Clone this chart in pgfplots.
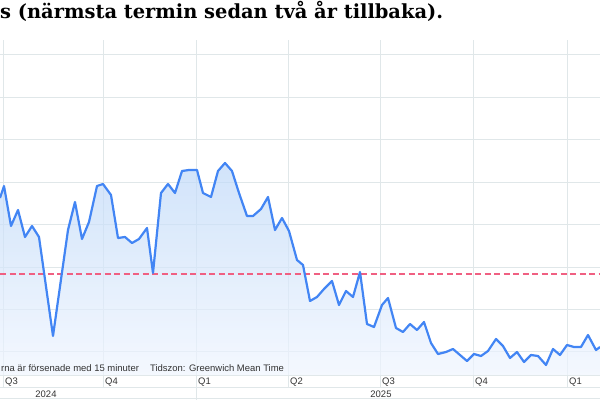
\documentclass[border=0pt]{standalone}
\usepackage{pgfplots}
\pgfplotsset{compat=1.18}
\usepackage{fontspec}
\setmainfont{Liberation Sans}
\newfontfamily\titlefont{DejaVu Serif}
\definecolor{lineblue}{RGB}{66,133,244}
\definecolor{gridcol}{RGB}{224,231,233}
\definecolor{filltop}{RGB}{190,216,248}
\definecolor{fillbot}{RGB}{239,245,254}
\definecolor{refred}{RGB}{240,96,130}
\definecolor{txt}{RGB}{51,51,51}
\pgfplotstableread{
x y
0 177
4 189
11 149
18 165
25 138
32 149
39 138
53 39
68 145
75 173
82 136
89 153
97 189
103 191
111 180
118 137
125 138
132 132
139 136
147 147
153 102
161 182
168 191
175 182
182 204
189 205
197 205
203 182
211 178
218 204
225 212
232 204
239 182
247 159
253 159
261 166
268 178
275 145
282 157
289 144
297 115
303 110
310 74
317 78
324 86
332 94
339 70
346 84
353 78
360 103
367 51
374 48
382 70
388 77
396 47
403 43
410 51
417 45
424 53
431 32
438 21
446 23
453 26
460 20
467 14
474 21
481 19
488 24
496 36
503 29
510 17
517 23
524 13
531 20
538 19
546 10
553 26
560 20
567 30
574 28
581 28
588 40
596 25
600 28
}\series
\begin{document}
\begin{tikzpicture}
\useasboundingbox (0,0) rectangle (600bp,400bp);
\node[anchor=base west, inner sep=0, font=\titlefont\bfseries\fontsize{19.5}{22}\selectfont, text=black] at (0bp,381bp) {s (närmsta termin sedan två år tillbaka).};
\begin{axis}[
  at={(0,25bp)}, anchor=south west,
  scale only axis, width=600bp, height=335bp,
  xmin=0, xmax=600, ymin=0, ymax=335,
  axis line style={draw=none},
  tick style={draw=none},
  xtick={3,103,196,288,380,473,567},
  ytick={0,23,65.4,107.9,150.3,192.7,235.1,277.6,320},
  xticklabels={}, yticklabels={},
  xmajorgrids, ymajorgrids,
  grid style={gridcol, line width=1bp},
  clip=false,
]
\addplot[draw=none, top color=filltop, bottom color=fillbot, fill opacity=0.7] table[x=x,y=y] {\series} \closedcycle;
\addplot[refred, line width=1.4bp, dash pattern=on 6bp off 3.5bp] coordinates {(0,101) (600,101)};
\addplot[lineblue, line width=2.2bp, line join=round] table[x=x,y=y] {\series};
\draw[gridcol, line width=1bp] (axis cs:0,-12) -- (axis cs:600,-12);
\draw[gridcol, line width=1bp] (axis cs:0,-23) -- (axis cs:600,-23);
\draw[gridcol, line width=1bp] (axis cs:3,0) -- (axis cs:3,-12);
\draw[gridcol, line width=1bp] (axis cs:103,0) -- (axis cs:103,-12);
\draw[gridcol, line width=1bp] (axis cs:288,0) -- (axis cs:288,-12);
\draw[gridcol, line width=1bp] (axis cs:380,0) -- (axis cs:380,-12);
\draw[gridcol, line width=1bp] (axis cs:473,0) -- (axis cs:473,-12);
\draw[gridcol, line width=1bp] (axis cs:567,0) -- (axis cs:567,-12);
\draw[gridcol, line width=1bp] (axis cs:196,0) -- (axis cs:196,-25);
\node[anchor=base west, inner sep=0, text=txt, font=\fontsize{9.5}{11}\selectfont] at (axis cs:1,4) {rna är försenade med 15 minuter};
\node[anchor=base west, inner sep=0, text=txt, font=\fontsize{9.5}{11}\selectfont] at (axis cs:150,4) {Tidszon: Greenwich Mean Time};
\node[anchor=base west, inner sep=0, text=txt, font=\fontsize{9.5}{11}\selectfont] at (axis cs:5,-9.5) {Q3};
\node[anchor=base west, inner sep=0, text=txt, font=\fontsize{9.5}{11}\selectfont] at (axis cs:105,-9.5) {Q4};
\node[anchor=base west, inner sep=0, text=txt, font=\fontsize{9.5}{11}\selectfont] at (axis cs:198,-9.5) {Q1};
\node[anchor=base west, inner sep=0, text=txt, font=\fontsize{9.5}{11}\selectfont] at (axis cs:290,-9.5) {Q2};
\node[anchor=base west, inner sep=0, text=txt, font=\fontsize{9.5}{11}\selectfont] at (axis cs:382,-9.5) {Q3};
\node[anchor=base west, inner sep=0, text=txt, font=\fontsize{9.5}{11}\selectfont] at (axis cs:475,-9.5) {Q4};
\node[anchor=base west, inner sep=0, text=txt, font=\fontsize{9.5}{11}\selectfont] at (axis cs:569,-9.5) {Q1};
\node[anchor=base, inner sep=0, text=txt, font=\fontsize{9.5}{11}\selectfont] at (axis cs:46,-22) {2024};
\node[anchor=base, inner sep=0, text=txt, font=\fontsize{9.5}{11}\selectfont] at (axis cs:381,-22) {2025};
\end{axis}
\end{tikzpicture}
\end{document}
